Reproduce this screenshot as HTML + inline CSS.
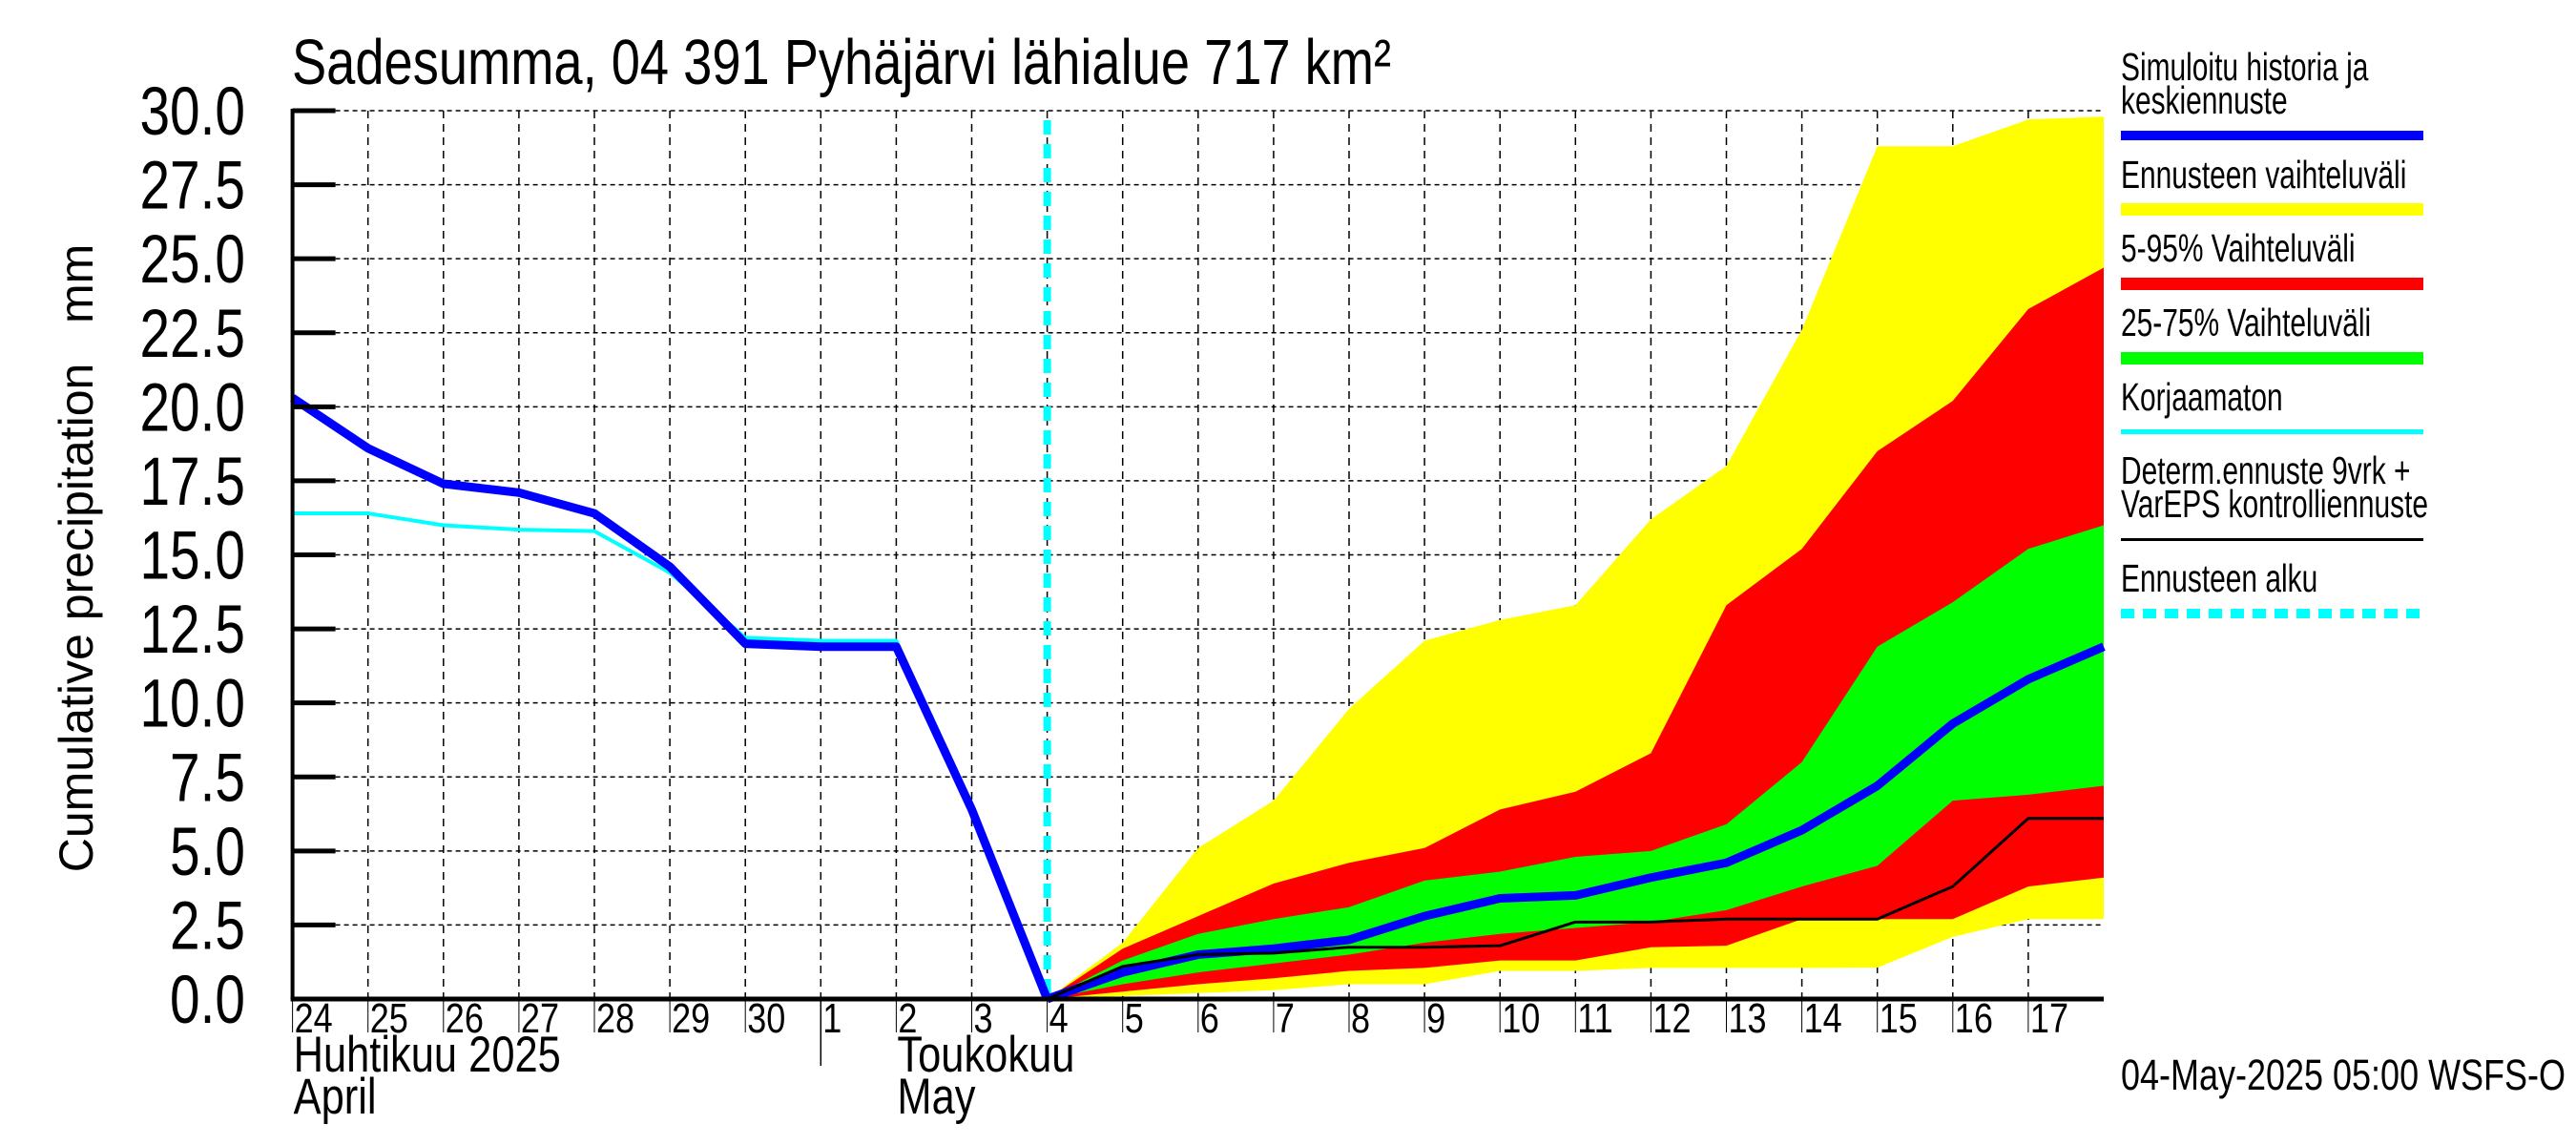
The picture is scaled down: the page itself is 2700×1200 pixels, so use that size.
<!DOCTYPE html>
<html><head><meta charset="utf-8"><style>
html,body{margin:0;padding:0;background:#fff;}
svg{display:block;font-family:"Liberation Sans",sans-serif;}
</style></head><body>
<svg id="chart" width="2700" height="1200" viewBox="0 0 2700 1200" xmlns="http://www.w3.org/2000/svg">
<rect width="2700" height="1200" fill="#fff"/>
<g id="grid"></g>
<g id="bands"></g>
<g id="lines"></g>
<g id="axes"></g>
<text x="306" y="88" font-size="67" transform="translate(306 0) scale(0.81 1) translate(-306 0)">Sadesumma, 04 391 Pyhäjärvi lähialue 717 km²</text>
<text x="0" y="0" font-size="50" text-anchor="middle" transform="translate(97 585) rotate(-90)" xml:space="preserve">Cumulative precipitation   mm</text>
<g font-size="41">
<g>
<text x="2223" y="84" transform="translate(2223 0) scale(0.73 1) translate(-2223 0)">Simuloitu historia ja</text>
<text x="2223" y="119" transform="translate(2223 0) scale(0.73 1) translate(-2223 0)">keskiennuste</text>
<rect x="2223" y="137" width="317" height="10" fill="#0000ff"/></g>
<g>
<text x="2223" y="197" transform="translate(2223 0) scale(0.73 1) translate(-2223 0)">Ennusteen vaihteluväli</text>
<rect x="2223" y="213" width="317" height="13" fill="#ffff00"/></g>
<g>
<text x="2223" y="274" transform="translate(2223 0) scale(0.73 1) translate(-2223 0)">5-95% Vaihteluväli</text>
<rect x="2223" y="291" width="317" height="13" fill="#ff0000"/></g>
<g>
<text x="2223" y="352" transform="translate(2223 0) scale(0.73 1) translate(-2223 0)">25-75% Vaihteluväli</text>
<rect x="2223" y="369" width="317" height="13" fill="#00ff00"/></g>
<g>
<text x="2223" y="430" transform="translate(2223 0) scale(0.73 1) translate(-2223 0)">Korjaamaton</text>
<rect x="2223" y="450" width="317" height="5" fill="#00ffff"/></g>
<g>
<text x="2223" y="507" transform="translate(2223 0) scale(0.73 1) translate(-2223 0)">Determ.ennuste 9vrk +</text>
<text x="2223" y="542" transform="translate(2223 0) scale(0.73 1) translate(-2223 0)">VarEPS kontrolliennuste</text>
<rect x="2223" y="564" width="317" height="3" fill="#000"/></g>
<g>
<text x="2223" y="620" transform="translate(2223 0) scale(0.73 1) translate(-2223 0)">Ennusteen alku</text>
<line x1="2223" y1="643" x2="2540" y2="643" stroke="#00ffff" stroke-width="10" stroke-dasharray="14 9"/></g>
</g>
<text x="2223" y="1142" font-size="45" transform="translate(2223 0) scale(0.8 1) translate(-2223 0)">04-May-2025 05:00 WSFS-O</text>
</svg>
<script>
// Data (day index 0 = Apr 24, 10 = May 4, 24 = May 18)
const dayLabels = ["24","25","26","27","28","29","30","1","2","3","4","5","6","7","8","9","10","11","12","13","14","15","16","17"];
const yTicks = [0,2.5,5,7.5,10,12.5,15,17.5,20,22.5,25,27.5,30];
const histDays = [0,1,2,3,4,5,6,7,8,9,10];
const histSim = [20.3,18.6,17.4,17.1,16.4,14.6,12.0,11.9,11.9,6.4,0];
const histUncorr = [16.4,16.4,16.0,15.85,15.8,14.4,12.2,12.1,12.1,6.4,0];
const fcDays = [10,11,12,13,14,15,16,17,18,19,20,21,22,23,24];
const rangeMax = [0,1.9,5.1,6.7,9.8,12.1,12.8,13.3,16.2,18.0,22.6,28.8,28.8,29.7,29.8];
const rangeMin = [0,0.1,0.2,0.3,0.5,0.5,0.95,0.95,1.05,1.05,1.05,1.06,2.1,2.7,2.7];
const p95 = [0,1.7,2.8,3.9,4.6,5.1,6.4,7.0,8.3,13.3,15.2,18.5,20.2,23.3,24.7];
const p05 = [0,0.25,0.5,0.7,0.95,1.05,1.3,1.3,1.75,1.8,2.7,2.7,2.7,3.8,4.1];
const p75 = [0,1.3,2.2,2.7,3.1,4.0,4.3,4.8,5.0,5.9,8.0,11.9,13.4,15.2,16.0];
const p25 = [0,0.5,0.9,1.2,1.5,1.9,2.2,2.4,2.6,3.0,3.8,4.5,6.7,6.9,7.2];
const fcMean = [0,0.9,1.5,1.7,2.0,2.8,3.4,3.5,4.1,4.6,5.7,7.2,9.3,10.8,11.9];
const determ = [0,1.1,1.5,1.55,1.75,1.75,1.8,2.6,2.6,2.7,2.7,2.7,3.8,6.1,6.1];
const forecastStartDay = 10;

const X0=306.6, DX=79.1, Y0=1047, Y1=116, YMAX=30;
const xs = d => X0 + d*DX;
const ys = v => Y0 - (v/YMAX)*(Y0-Y1);
const NS="http://www.w3.org/2000/svg";
function mk(tag, attrs, parent){const e=document.createElementNS(NS,tag);for(const k in attrs)e.setAttribute(k,attrs[k]);parent.appendChild(e);return e;}
const grid=document.getElementById('grid'), bands=document.getElementById('bands'), lines=document.getElementById('lines'), axes=document.getElementById('axes');
const XR = xs(24);

yTicks.forEach(v=>{ if(v===0) return;
  const l=mk('line',{x1:X0,x2:XR,y1:ys(v),y2:ys(v),stroke:'#000','stroke-width':1.5,'stroke-dasharray':'5 4'},grid);
  
  
});
for(let d=1; d<=23; d++){
  const l=mk('line',{x1:xs(d),x2:xs(d),y1:Y1,y2:Y0,stroke:'#000','stroke-width':1.5,'stroke-dasharray':'8 6'},grid);
  
  
}

function band(up, lo, color, name){
  let p = fcDays.map((d,i)=>`${xs(d)},${ys(up[i])}`);
  for(let i=fcDays.length-1;i>=0;i--) p.push(`${xs(fcDays[i])},${ys(lo[i])}`);
  const e=mk('polygon',{points:p.join(' '),fill:color},bands);
  
  
}
band(rangeMax, rangeMin, '#ffff00', 'band-full-range');
band(p95, p05, '#ff0000', 'band-5-95');
band(p75, p25, '#00ff00', 'band-25-75');

function line(days, vals, color, w, name){
  const e=mk('polyline',{points:days.map((d,i)=>`${xs(d)},${ys(vals[i])}`).join(' '),fill:'none',stroke:color,'stroke-width':w,'stroke-linejoin':'round'},lines);
  
  
}
line(histDays, histUncorr, '#00ffff', 4, 'uncorrected-line');
const fs=mk('line',{x1:xs(forecastStartDay),x2:xs(forecastStartDay),y1:126,y2:Y0,stroke:'#00ffff','stroke-width':8,'stroke-dasharray':'15 10'},lines);


line(histDays, histSim, '#0000ff', 9, 'simulated-history-line');
line(fcDays, fcMean, '#0000ff', 9, 'mean-forecast-line');
line(fcDays, determ, '#000000', 3, 'determ-forecast-line');

const ya=mk('line',{x1:X0,x2:X0,y1:Y1-2,y2:Y0,stroke:'#000','stroke-width':4},axes);


const xa=mk('line',{x1:X0-2,x2:XR,y1:Y0,y2:Y0,stroke:'#000','stroke-width':5},axes);


yTicks.forEach(v=>{
  const t=mk('line',{x1:X0,x2:X0+45,y1:ys(v),y2:ys(v),stroke:'#000','stroke-width':5},axes);
  
  
  const tx=mk('text',{x:0,y:0,'font-size':71,'text-anchor':'end',transform:`translate(257 ${ys(v)+25}) scale(0.8 1)`},axes);
  tx.textContent=v.toFixed(1);
  
  
});
dayLabels.forEach((s,d)=>{
  const t=mk('line',{x1:xs(d),x2:xs(d),y1:Y0,y2:1082,stroke:'#000','stroke-width':1},axes);
  
  
  const tx=mk('text',{x:0,y:0,'font-size':44,transform:`translate(${xs(d)+2} 1082) scale(0.82 1)`},axes);
  tx.textContent=s;
  
  
});
const ms=mk('line',{x1:xs(7),x2:xs(7),y1:Y0,y2:1117,stroke:'#000','stroke-width':1.5},axes);


[["Huhtikuu  2025",0,1123],["April",0,1167],["Toukokuu",8,1123],["May",8,1167]].forEach(([s,d,y])=>{
  const tx=mk('text',{x:0,y:0,'font-size':53,transform:`translate(${xs(d)+1} ${y}) scale(0.82 1)`,'xml:space':'preserve'},axes);
  tx.textContent=s;
  
  
});
</script>
</body></html>
